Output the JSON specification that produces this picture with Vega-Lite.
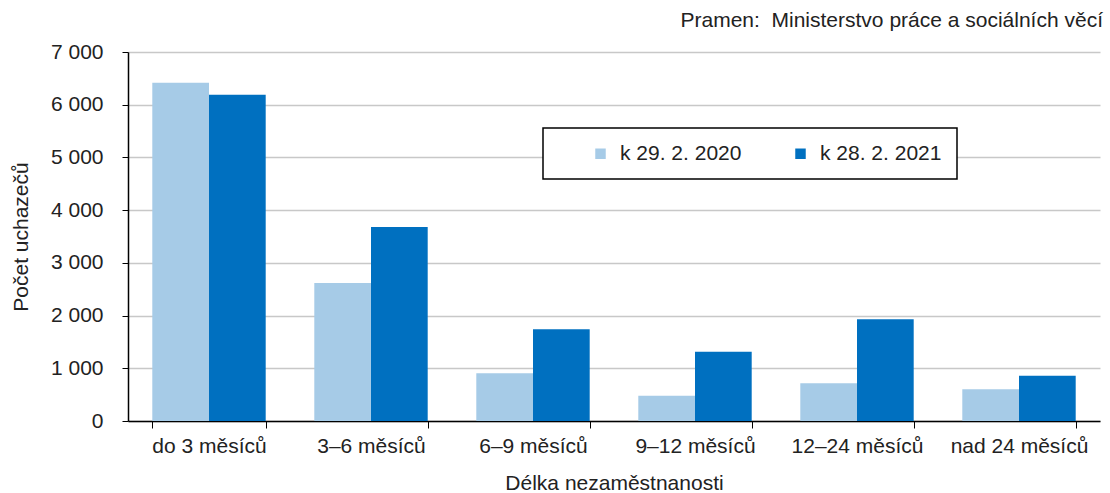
{
  "$schema": "https://vega.github.io/schema/vega-lite/v6.json",
  "autosize": {"type": "none"},
  "width": 972,
  "height": 369,
  "padding": {"left": 128, "top": 52, "right": 10, "bottom": 72},
  "background": "white",
  "config": {
    "font": "Liberation Sans",
    "view": {"stroke": null}
  },
  "title": {
    "text": "Pramen:\u00a0 Ministerstvo práce a sociálních věcí",
    "anchor": "end",
    "fontSize": 21,
    "fontWeight": "normal",
    "color": "#222222",
    "offset": 10,
    "dx": 3
  },
  "data": {
    "values": [
      {"delka": "do 3 měsíců", "obdobi": "k 29. 2. 2020", "pocet": 6415},
      {"delka": "do 3 měsíců", "obdobi": "k 28. 2. 2021", "pocet": 6190},
      {"delka": "3–6 měsíců", "obdobi": "k 29. 2. 2020", "pocet": 2620},
      {"delka": "3–6 měsíců", "obdobi": "k 28. 2. 2021", "pocet": 3680},
      {"delka": "6–9 měsíců", "obdobi": "k 29. 2. 2020", "pocet": 905},
      {"delka": "6–9 měsíců", "obdobi": "k 28. 2. 2021", "pocet": 1740},
      {"delka": "9–12 měsíců", "obdobi": "k 29. 2. 2020", "pocet": 480},
      {"delka": "9–12 měsíců", "obdobi": "k 28. 2. 2021", "pocet": 1315},
      {"delka": "12–24 měsíců", "obdobi": "k 29. 2. 2020", "pocet": 715},
      {"delka": "12–24 měsíců", "obdobi": "k 28. 2. 2021", "pocet": 1930},
      {"delka": "nad 24 měsíců", "obdobi": "k 29. 2. 2020", "pocet": 600},
      {"delka": "nad 24 měsíců", "obdobi": "k 28. 2. 2021", "pocet": 860}
    ]
  },
  "mark": {"type": "bar"},
  "encoding": {
    "x": {
      "field": "delka",
      "type": "nominal",
      "sort": null,
      "scale": {"paddingInner": 0.3, "paddingOuter": 0.15},
      "axis": {
        "title": "Délka nezaměstnanosti",
        "titleFontSize": 21,
        "titleFontWeight": "normal",
        "titleColor": "#222222",
        "titlePadding": 16,
        "labelAngle": 0,
        "labelFontSize": 21,
        "labelColor": "#222222",
        "labelPadding": 7,
        "domainColor": "#000000",
        "domainWidth": 1.5,
        "tickColor": "#000000",
        "tickBand": "extent",
        "tickSize": 7
      }
    },
    "xOffset": {"field": "obdobi", "type": "nominal", "sort": ["k 29. 2. 2020", "k 28. 2. 2021"]},
    "y": {
      "field": "pocet",
      "type": "quantitative",
      "scale": {"domain": [0, 7000]},
      "axis": {
        "title": "Počet uchazečů",
        "titleFontSize": 21,
        "titleFontWeight": "normal",
        "titleColor": "#222222",
        "titlePadding": 19,
        "values": [0, 1000, 2000, 3000, 4000, 5000, 6000, 7000],
        "labelExpr": "replace(format(datum.value, ','), ',', ' ')",
        "labelFontSize": 21,
        "labelColor": "#222222",
        "labelPadding": 19,
        "domainColor": "#000000",
        "domainWidth": 1.5,
        "tickColor": "#000000",
        "tickSize": 6,
        "gridColor": "#c8c8c8",
        "gridWidth": 1.5
      }
    },
    "color": {
      "field": "obdobi",
      "type": "nominal",
      "sort": ["k 29. 2. 2020", "k 28. 2. 2021"],
      "scale": {"domain": ["k 29. 2. 2020", "k 28. 2. 2021"], "range": ["#a6cbe7", "#0070c0"]},
      "legend": {
        "title": " ",
        "titleOrient": "left",
        "titlePadding": 32,
        "titleFontSize": 21,
        "orient": "none",
        "legendX": 415,
        "legendY": 76,
        "direction": "horizontal",
        "symbolType": "square",
        "symbolSize": 110,
        "symbolStrokeWidth": 0,
        "labelFontSize": 21,
        "labelColor": "#222222",
        "labelOffset": 9,
        "columnPadding": 48,
        "strokeColor": "#000000",
        "padding": 15,
        "fillColor": "white",
        "encode": {"legend": {"update": {"strokeWidth": {"value": 1.5}}}}
      }
    }
  }
}
